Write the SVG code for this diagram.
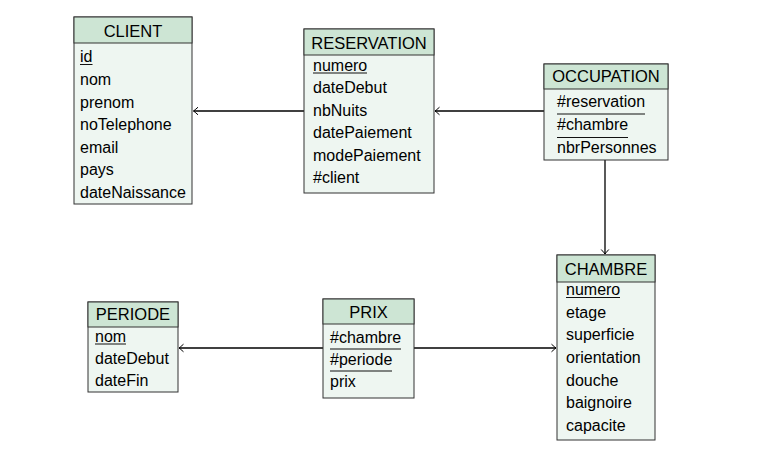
<svg xmlns="http://www.w3.org/2000/svg" width="776" height="471" viewBox="0 0 776 471">
<defs>
<style>
.box{fill:#eef6f1;stroke:#333333;stroke-width:1}
.hdr{fill:#cde5d4;stroke:#333333;stroke-width:1}
text{font-family:"Liberation Sans",Arial,sans-serif;font-size:16px;fill:#000}
.t{text-anchor:middle;font-size:16.5px}
.ul{stroke:#111;stroke-width:1}
.conn{fill:none;stroke:#000;stroke-width:1.3;marker-end:url(#arr)}
</style>
<marker id="arr" viewBox="-6 -5 8 10" markerWidth="8" markerHeight="10" refX="0" refY="0" orient="auto" markerUnits="userSpaceOnUse">
<path d="M-4.5,-3.8 Q-1.2,-0.8 0,0 Q-1.2,0.8 -4.5,3.8" fill="none" stroke="#000" stroke-width="1"/>
</marker>
</defs>
<rect width="776" height="471" fill="#ffffff"/>

<g id="connectors">
<path class="conn" d="M304,111 H193.5"/>
<path class="conn" d="M544,111 H435"/>
<path class="conn" d="M605,160 V254"/>
<path class="conn" d="M323,348 H179"/>
<path class="conn" d="M414,348 H556"/>
</g>

<g id="client">
<rect class="box" x="74" y="17" width="118" height="187"/>
<rect class="hdr" x="74" y="17" width="118" height="26"/>
<text class="t" x="133" y="36.5">CLIENT</text>
<text x="80" y="62">id</text>
<line class="ul" x1="80" y1="64.5" x2="92.5" y2="64.5"/>
<text x="80" y="85">nom</text>
<text x="80" y="107.5">prenom</text>
<text x="80" y="130">noTelephone</text>
<text x="80" y="152.5">email</text>
<text x="80" y="175">pays</text>
<text x="80" y="197.5">dateNaissance</text>
</g>

<g id="reservation">
<rect class="box" x="304" y="29" width="130" height="164"/>
<rect class="hdr" x="304" y="29" width="130" height="26"/>
<text class="t" x="369" y="49">RESERVATION</text>
<text x="313" y="70.5">numero</text>
<line class="ul" x1="313" y1="73" x2="367" y2="73"/>
<text x="313" y="93">dateDebut</text>
<text x="313" y="115.5">nbNuits</text>
<text x="313" y="138">datePaiement</text>
<text x="313" y="160.5">modePaiement</text>
<text x="313" y="183">#client</text>
</g>

<g id="occupation">
<rect class="box" x="544" y="64" width="124" height="96"/>
<rect class="hdr" x="544" y="64" width="124" height="25"/>
<text class="t" x="606" y="82">OCCUPATION</text>
<text x="557" y="107">#reservation</text>
<line class="ul" x1="557" y1="114" x2="645" y2="114"/>
<text x="557" y="130">#chambre</text>
<line class="ul" x1="557" y1="137.5" x2="628" y2="137.5"/>
<text x="557" y="152.5">nbrPersonnes</text>
</g>

<g id="chambre">
<rect class="box" x="557" y="255" width="98" height="185"/>
<rect class="hdr" x="557" y="255" width="98" height="27"/>
<text class="t" x="606" y="275">CHAMBRE</text>
<text x="566" y="295">numero</text>
<line class="ul" x1="566" y1="297.5" x2="620" y2="297.5"/>
<text x="566" y="317.7">etage</text>
<text x="566" y="340.3">superficie</text>
<text x="566" y="363">orientation</text>
<text x="566" y="385.7">douche</text>
<text x="566" y="408.3">baignoire</text>
<text x="566" y="431">capacite</text>
</g>

<g id="periode">
<rect class="box" x="88" y="302" width="90" height="90"/>
<rect class="hdr" x="88" y="302" width="90" height="25"/>
<text class="t" x="133" y="320">PERIODE</text>
<text x="95" y="341.5">nom</text>
<line class="ul" x1="95" y1="344" x2="126" y2="344"/>
<text x="95" y="363.5">dateDebut</text>
<text x="95" y="385.5">dateFin</text>
</g>

<g id="prix">
<rect class="box" x="323" y="299" width="91" height="99"/>
<rect class="hdr" x="323" y="299" width="91" height="25"/>
<text class="t" x="368.5" y="318">PRIX</text>
<text x="330" y="342.5">#chambre</text>
<line class="ul" x1="330" y1="349" x2="401" y2="349"/>
<text x="330" y="364.5">#periode</text>
<line class="ul" x1="330" y1="371" x2="392" y2="371"/>
<text x="330" y="387">prix</text>
</g>
</svg>
